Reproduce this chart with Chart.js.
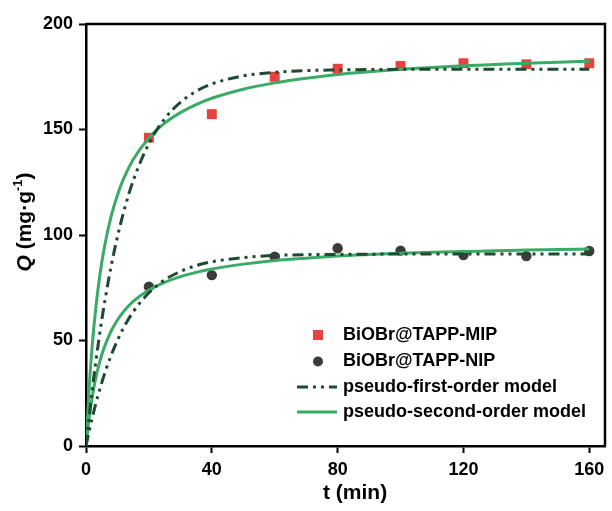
<!DOCTYPE html>
<html>
<head>
<meta charset="utf-8">
<script src="https://cdn.jsdelivr.net/npm/chart.js@4.4.1/dist/chart.umd.min.js"></script>
<style>
  html, body { margin: 0; padding: 0; background: #ffffff; }
  #wrap { width: 612px; height: 511px; position: relative; }
</style>
</head>
<body>
<div id="wrap"><canvas id="c" width="612" height="511"></canvas></div>
<script>
// ---- data ----
const tExp = [20, 40, 60, 80, 100, 120, 140, 160];
const qMIP = [146.1, 157.3, 175.0, 178.8, 180.1, 181.4, 180.9, 181.4];
const qNIP = [75.5, 81.0, 89.7, 93.7, 92.6, 90.5, 90.0, 92.4];

const tFit = [0, 1, 2, 3, 4, 5, 6, 8, 10, 12, 15, 20, 25, 30, 35, 40, 50, 60, 70, 80, 90, 100, 110, 120, 130, 140, 150, 160];
const mipFirst  = [0, 13.9, 26.8, 38.6, 49.5, 59.6, 68.8, 85.3, 99.2, 111.1, 125.7, 143.3, 155.1, 162.9, 168.1, 171.6, 175.4, 177.1, 177.9, 178.2, 178.4, 178.5, 178.5, 178.5, 178.5, 178.5, 178.5, 178.5];
const mipSecond = [0, 27.5, 48.0, 63.8, 76.5, 86.8, 95.4, 108.9, 119.0, 126.8, 135.8, 146.0, 153.0, 158.0, 161.8, 164.8, 169.1, 172.1, 174.3, 176.1, 177.4, 178.5, 179.4, 180.2, 180.8, 181.4, 181.9, 182.3];
const nipFirst  = [0, 7.0, 13.5, 19.4, 24.9, 30.0, 34.7, 43.0, 50.1, 56.2, 63.6, 72.6, 78.7, 82.7, 85.5, 87.3, 89.3, 90.3, 90.7, 90.8, 90.9, 91.0, 91.0, 91.0, 91.0, 91.0, 91.0, 91.0];
const nipSecond = [0, 13.4, 23.5, 31.5, 37.9, 43.1, 47.5, 54.5, 59.7, 63.8, 68.5, 73.9, 77.6, 80.3, 82.3, 83.9, 86.2, 87.9, 89.0, 90.0, 90.7, 91.3, 91.8, 92.2, 92.5, 92.9, 93.1, 93.4];

const xTicks = [0, 40, 80, 120, 160];
const yTicks = [0, 50, 100, 150, 200];

const labelMIP = 'BiOBr@TAPP-MIP';
const labelNIP = 'BiOBr@TAPP-NIP';
const labelFirst = 'pseudo-first-order model';
const labelSecond = 'pseudo-second-order model';
const xTitle = 't (min)';

// ---- styles ----
const RED = '#e8413f';
const GRAY = '#3b3b3b';
const DARK = '#1d4a30';
const GREEN = '#3aaa66';
const DASH = [11, 5, 3, 5, 3, 5];
const FONT = '"Liberation Sans", Arial, Helvetica, sans-serif';

const pts = (xs, ys) => xs.map((x, i) => ({ x: x, y: ys[i] }));

const lineDs = (label, ys, color, dash) => ({
  label: label,
  data: pts(tFit, ys),
  showLine: true,
  borderColor: color,
  borderWidth: 3,
  borderDash: dash,
  pointRadius: 0,
  pointHoverRadius: 0,
  tension: 0.4,
  cubicInterpolationMode: 'monotone',
  fill: false,
  order: 0
});

const overlay = {
  id: 'overlay',
  afterDraw(chart) {
    const ctx = chart.ctx;
    const a = chart.chartArea;
    ctx.save();
    // frame (top and right)
    ctx.strokeStyle = '#000';
    ctx.lineWidth = 2.5;
    ctx.beginPath();
    ctx.moveTo(a.left, a.top);
    ctx.lineTo(a.right, a.top);
    ctx.lineTo(a.right, a.bottom);
    ctx.stroke();

    // x title
    ctx.fillStyle = '#000';
    ctx.font = 'bold 21px ' + FONT;
    ctx.textBaseline = 'alphabetic';
    ctx.textAlign = 'left';
    ctx.fillText(xTitle, 323, 499);

    // y title (rotated)
    ctx.save();
    ctx.translate(31, 222);
    ctx.rotate(-Math.PI / 2);
    const segs = [
      { t: 'Q', f: 'italic bold 21px ' + FONT, dy: 0 },
      { t: ' (mg·g', f: 'bold 21px ' + FONT, dy: 0 },
      { t: '-1', f: 'bold 13px ' + FONT, dy: -9 },
      { t: ')', f: 'bold 21px ' + FONT, dy: 0 }
    ];
    let total = 0;
    segs.forEach(s => { ctx.font = s.f; s.w = ctx.measureText(s.t).width; total += s.w; });
    let x = -total / 2;
    segs.forEach(s => { ctx.font = s.f; ctx.fillText(s.t, x, s.dy); x += s.w; });
    ctx.restore();

    // legend
    ctx.font = 'bold 18px ' + FONT;
    ctx.textBaseline = 'middle';
    const tx = 343;
    const rows = [335, 361.5, 387, 412];
    // MIP square
    ctx.fillStyle = RED;
    ctx.fillRect(318 - 5, rows[0] - 5, 10, 10);
    ctx.fillStyle = '#000';
    ctx.fillText(labelMIP, tx, rows[0]);
    // NIP circle
    ctx.fillStyle = GRAY;
    ctx.beginPath();
    ctx.arc(318, rows[1], 5, 0, Math.PI * 2);
    ctx.fill();
    ctx.fillStyle = '#000';
    ctx.fillText(labelNIP, tx, rows[1]);
    // first-order line sample
    ctx.strokeStyle = DARK;
    ctx.lineWidth = 3;
    ctx.setLineDash(DASH);
    ctx.beginPath();
    ctx.moveTo(297, rows[2]);
    ctx.lineTo(337, rows[2]);
    ctx.stroke();
    ctx.setLineDash([]);
    ctx.fillText(labelFirst, tx, rows[2]);
    // second-order line sample
    ctx.strokeStyle = GREEN;
    ctx.beginPath();
    ctx.moveTo(297, rows[3]);
    ctx.lineTo(337, rows[3]);
    ctx.stroke();
    ctx.fillText(labelSecond, tx, rows[3]);
    ctx.restore();
  }
};

new Chart(document.getElementById('c'), {
  type: 'scatter',
  data: {
    datasets: [
      lineDs(labelFirst, mipFirst, DARK, DASH),
      lineDs(labelSecond, mipSecond, GREEN, []),
      lineDs(labelFirst, nipFirst, DARK, DASH),
      lineDs(labelSecond, nipSecond, GREEN, []),
      {
        label: labelMIP,
        data: pts(tExp, qMIP),
        pointStyle: 'rect',
        pointRadius: 7,
        pointBackgroundColor: RED,
        pointBorderWidth: 0,
        borderColor: RED,
        showLine: false,
        order: 1
      },
      {
        label: labelNIP,
        data: pts(tExp, qNIP),
        pointStyle: 'circle',
        pointRadius: 5.2,
        pointBackgroundColor: GRAY,
        pointBorderWidth: 0,
        borderColor: GRAY,
        showLine: false,
        order: 1
      }
    ]
  },
  options: {
    responsive: false,
    animation: false,
    devicePixelRatio: 1,
    layout: { padding: { left: 0, right: 3, top: 24, bottom: 0 } },
    plugins: { legend: { display: false }, tooltip: { enabled: false } },
    scales: {
      x: {
        type: 'linear',
        min: 0,
        max: 165,
        afterBuildTicks: s => { s.ticks = xTicks.map(v => ({ value: v })); },
        afterFit: s => { s.height = 65; },
        border: { display: true, color: '#000', width: 2.5 },
        grid: { display: true, drawOnChartArea: false, drawTicks: true, tickLength: 7, tickWidth: 2, tickColor: '#000' },
        ticks: { color: '#000', font: { family: FONT, size: 18, weight: 'bold' }, padding: 6, maxRotation: 0 }
      },
      y: {
        type: 'linear',
        min: 0,
        max: 200,
        afterBuildTicks: s => { s.ticks = yTicks.map(v => ({ value: v })); },
        afterFit: s => { s.width = 86; },
        border: { display: true, color: '#000', width: 2.5 },
        grid: { display: true, drawOnChartArea: false, drawTicks: true, tickLength: 7, tickWidth: 2, tickColor: '#000' },
        ticks: { color: '#000', font: { family: FONT, size: 18, weight: 'bold' }, padding: 6 }
      }
    }
  },
  plugins: [overlay]
});
</script>
</body>
</html>
